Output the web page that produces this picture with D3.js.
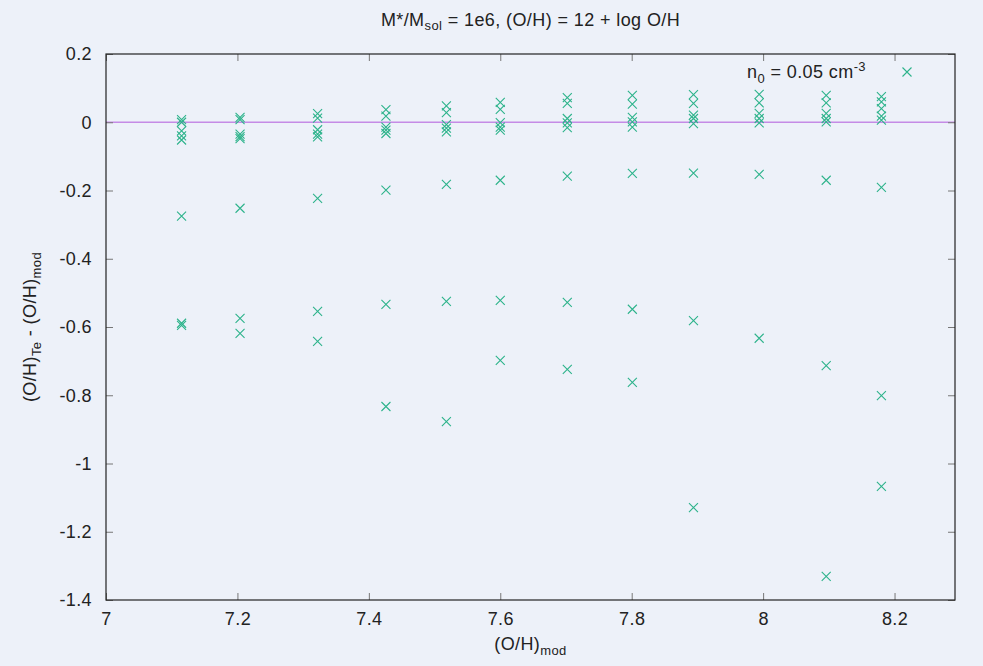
<!DOCTYPE html>
<html>
<head>
<meta charset="utf-8">
<script src="https://cdn.jsdelivr.net/npm/d3@7"></script>
<style>
  html, body { margin: 0; padding: 0; background: #edf1f9; }
  svg { display: block; }
  text { font-family: "Liberation Sans", Arial, Helvetica, sans-serif; fill: #222; letter-spacing: 0.4px; }
</style>
</head>
<body>
<svg id="chart" width="983" height="666"></svg>
<script>
// Model metallicity (12 + log O/H) of each grid column
const ohMod = [7.115, 7.204, 7.322, 7.426, 7.518, 7.600, 7.702, 7.801, 7.894, 7.994, 8.096, 8.180];

// (O/H)_Te - (O/H)_mod for each model track (null = off the plotted range)
const track1 = [0.008, 0.014, 0.025, 0.037, 0.048, 0.058, 0.072, 0.079, 0.081, 0.082, 0.079, 0.075];
const track2 = [0.000, 0.008, 0.012, 0.018, 0.028, 0.038, 0.055, 0.053, 0.055, 0.057, 0.057, 0.060];
const track3 = [-0.025, -0.035, -0.022, -0.014, -0.007, -0.001, 0.011, 0.014, 0.021, 0.026, 0.026, 0.040];
const track4 = [-0.040, -0.042, -0.035, -0.023, -0.017, -0.014, -0.002, 0.001, 0.011, 0.011, 0.011, 0.018];
const track5 = [-0.052, -0.048, -0.043, -0.033, -0.028, -0.023, -0.016, -0.014, -0.004, -0.002, 0.001, 0.006];
const track6 = [-0.275, -0.252, -0.223, -0.199, -0.182, -0.170, -0.158, -0.150, -0.149, -0.153, -0.170, -0.191];
const track7 = [-0.589, -0.575, -0.554, -0.534, -0.525, -0.522, -0.528, -0.548, -0.581, -0.633, -0.713, -0.801];
const track8 = [-0.595, -0.619, -0.642, -0.833, -0.877, -0.698, -0.724, -0.762, -1.129, null, -1.331, -1.067];
const tracks = [track1, track2, track3, track4, track5, track6, track7, track8];

const xTicks = [7, 7.2, 7.4, 7.6, 7.8, 8, 8.2];
const yTicks = [0.2, 0, -0.2, -0.4, -0.6, -0.8, -1, -1.2, -1.4];

const W = 983, H = 666;
const margin = { top: 54, right: 28, bottom: 66, left: 106 };
const svg = d3.select("#chart");

const x = d3.scaleLinear().domain([7, 8.292]).range([margin.left, W - margin.right]);
const y = d3.scaleLinear().domain([-1.4, 0.2]).range([H - margin.bottom, margin.top]);

const pointColor = "#2db38b";
const tickLen = 7;
const fontMain = "18px";
const fontSub = "13px";

// zero reference line
svg.append("line")
  .attr("x1", x.range()[0]).attr("x2", x.range()[1])
  .attr("y1", y(0)).attr("y2", y(0))
  .attr("stroke", "#c58be6").attr("stroke-width", 1.6);

// axes with inward ticks, mirrored on the opposite sides
function fmt(d) { return String(+d.toFixed(2)); }
const axBottom = svg.append("g").attr("transform", `translate(0,${y.range()[0]})`)
  .call(d3.axisBottom(x).tickValues(xTicks).tickSize(-tickLen).tickPadding(12).tickFormat(fmt));
const axTop = svg.append("g").attr("transform", `translate(0,${y.range()[1]})`)
  .call(d3.axisTop(x).tickValues(xTicks).tickSize(-tickLen).tickFormat(""));
const axLeft = svg.append("g").attr("transform", `translate(${x.range()[0]},0)`)
  .call(d3.axisLeft(y).tickValues(yTicks).tickSize(-tickLen).tickPadding(14).tickFormat(fmt));
const axRight = svg.append("g").attr("transform", `translate(${x.range()[1]},0)`)
  .call(d3.axisRight(y).tickValues(yTicks).tickSize(-tickLen).tickFormat(""));

[axBottom, axTop, axLeft, axRight].forEach(g => {
  g.select(".domain").remove();
  g.selectAll(".tick line").attr("stroke", "#777").attr("stroke-width", 1);
  g.selectAll(".tick text").style("font-size", fontMain).attr("fill", "#222")
    .style("font-family", "'Liberation Sans', Arial, sans-serif");
});

// plot border
svg.append("rect")
  .attr("x", x.range()[0]).attr("y", y.range()[1])
  .attr("width", x.range()[1] - x.range()[0])
  .attr("height", y.range()[0] - y.range()[1])
  .attr("fill", "none").attr("stroke", "#222").attr("stroke-width", 1.2);

// cross markers
const half = 4.5;
function cross(g, cx, cy) {
  g.append("path")
    .attr("d", `M${cx - half},${cy - half}L${cx + half},${cy + half}M${cx - half},${cy + half}L${cx + half},${cy - half}`)
    .attr("stroke", pointColor).attr("stroke-width", 1.1).attr("fill", "none");
}
const pts = svg.append("g");
tracks.forEach(tr => {
  tr.forEach((v, i) => {
    if (v === null) return;
    cross(pts, x(ohMod[i]), y(v));
  });
});

// title
const title = svg.append("text").attr("x", (x.range()[0] + x.range()[1]) / 2).attr("y", 26)
  .attr("text-anchor", "middle").style("font-size", fontMain);
title.append("tspan").text("M*/M");
title.append("tspan").attr("dy", 4).style("font-size", fontSub).text("sol");
title.append("tspan").attr("dy", -4).text(" = 1e6, (O/H) = 12 + log O/H");

// legend
const leg = svg.append("text").attr("x", 866).attr("y", 78).attr("text-anchor", "end").style("font-size", fontMain);
leg.append("tspan").text("n");
leg.append("tspan").attr("dy", 5).style("font-size", fontSub).text("0");
leg.append("tspan").attr("dy", -5).text(" = 0.05 cm");
leg.append("tspan").attr("dy", -7).style("font-size", fontSub).text("-3");
cross(svg, 907, 72);

// x-axis title
const xt = svg.append("text").attr("x", (x.range()[0] + x.range()[1]) / 2).attr("y", 650)
  .attr("text-anchor", "middle").style("font-size", fontMain);
xt.append("tspan").text("(O/H)");
xt.append("tspan").attr("dy", 5).style("font-size", fontSub).text("mod");

// y-axis title
const yt = svg.append("text")
  .attr("transform", `translate(36,${(y.range()[0] + y.range()[1]) / 2}) rotate(-90)`)
  .attr("text-anchor", "middle").style("font-size", fontMain);
yt.append("tspan").text("(O/H)");
yt.append("tspan").attr("dy", 5).style("font-size", fontSub).text("Te");
yt.append("tspan").attr("dy", -5).text(" - (O/H)");
yt.append("tspan").attr("dy", 5).style("font-size", fontSub).text("mod");
</script>
</body>
</html>
